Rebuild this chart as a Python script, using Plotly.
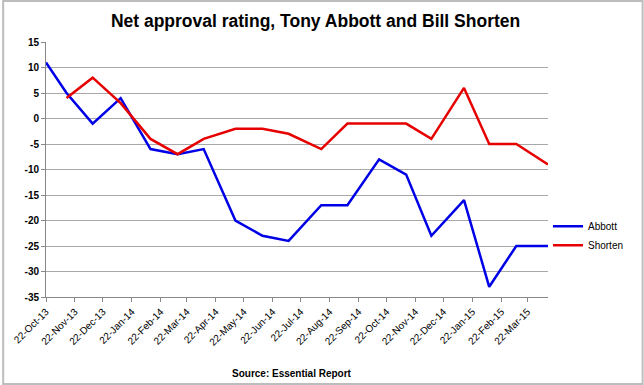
import plotly.graph_objects as go

dates = ["2013-10-22", "2013-11-13", "2013-12-11", "2014-01-10", "2014-02-11",
         "2014-03-12", "2014-04-09", "2014-05-13", "2014-06-11", "2014-07-09",
         "2014-08-13", "2014-09-10", "2014-10-14", "2014-11-12", "2014-12-09",
         "2015-01-13", "2015-02-09", "2015-03-10", "2015-04-13"]
abbott = [11, 5, -1, 4, -6, -7, -6, -20, -23, -24, -17, -17, -8, -11, -23, -16, -33, -25, -25]
shorten = [None, 4, 8, 3, -4, -7, -4, -2, -2, -3, -6, -1, -1, -1, -4, 6, -5, -5, -9]

tick_dates = ["2013-10-22", "2013-11-22", "2013-12-22", "2014-01-22", "2014-02-22",
              "2014-03-22", "2014-04-22", "2014-05-22", "2014-06-22", "2014-07-22",
              "2014-08-22", "2014-09-22", "2014-10-22", "2014-11-22", "2014-12-22",
              "2015-01-22", "2015-02-22", "2015-03-22"]
tick_labels = ["22-Oct-13", "22-Nov-13", "22-Dec-13", "22-Jan-14", "22-Feb-14",
               "22-Mar-14", "22-Apr-14", "22-May-14", "22-Jun-14", "22-Jul-14",
               "22-Aug-14", "22-Sep-14", "22-Oct-14", "22-Nov-14", "22-Dec-14",
               "22-Jan-15", "22-Feb-15", "22-Mar-15"]
y_ticks = [15, 10, 5, 0, -5, -10, -15, -20, -25, -30, -35]

fig = go.Figure()
fig.add_trace(go.Scatter(x=dates, y=abbott, mode="lines", name="Abbott",
                         line=dict(color="#0000e6", width=2.5)))
fig.add_trace(go.Scatter(x=dates, y=shorten, mode="lines", name="Shorten",
                         line=dict(color="#e60000", width=2.5)))

fig.update_layout(
    width=644, height=385,
    margin=dict(l=44, r=96, t=42, b=88),
    paper_bgcolor="white", plot_bgcolor="white",
    font=dict(family="Liberation Sans, Arial, sans-serif", color="black", size=10),
    title=dict(text="<b>Net approval rating, Tony Abbott and Bill Shorten</b>",
               x=0.49, xanchor="center", y=0.945, yanchor="middle",
               font=dict(size=17.5)),
    legend=dict(x=1.0, y=0.24, xanchor="left", yanchor="middle",
                font=dict(size=10), itemwidth=30, tracegroupgap=2,
                bgcolor="rgba(0,0,0,0)"),
    showlegend=True,
    shapes=[dict(type="rect", xref="paper", yref="paper",
                 x0=-43/504, x1=(644-44-1)/504, y0=-(88-1)/255, y1=(42+255-1)/255,
                 line=dict(color="#bdbdbd", width=2), layer="below")],
    annotations=[dict(text="<b>Source: Essential Report</b>", xref="paper", yref="paper",
                      x=0.49, y=-0.3, yanchor="middle", xanchor="center",
                      showarrow=False, font=dict(size=10))],
)

fig.update_xaxes(type="date", range=["2013-10-22", "2015-04-13"],
                 tickvals=tick_dates, ticktext=tick_labels, tickangle=-45,
                 showgrid=False, showline=True, linecolor="#888888", linewidth=1,
                 ticks="outside", ticklen=4, tickcolor="#888888",
                 tickfont=dict(size=10), zeroline=False)
fig.update_yaxes(range=[-35, 15], tickvals=y_ticks, ticktext=[str(v) for v in y_ticks],
                 showgrid=True, gridcolor="#a8a8a8", gridwidth=1.2,
                 showline=True, linecolor="#888888", linewidth=1,
                 ticks="outside", ticklen=4, tickcolor="#888888",
                 tickfont=dict(size=10, weight="bold"), zeroline=False)

fig.write_html("out.html", config={"displayModeBar": False},
               post_script="document.body.style.margin='0';")
